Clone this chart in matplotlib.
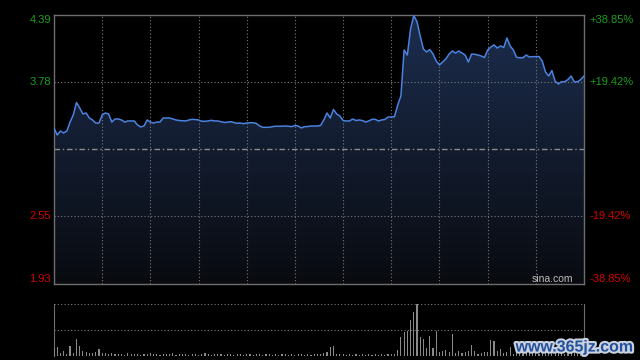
import matplotlib
matplotlib.use("Agg")
import matplotlib.pyplot as plt
import matplotlib.patheffects as pe
from matplotlib.colors import LinearSegmentedColormap
import numpy as np

plt.rcParams['font.family'] = ['Liberation Sans', 'DejaVu Sans']

# intraday data, one sample every 2 minutes (HK session: 330 minutes)
prev_close = 3.16
minutes = np.arange(0, 331, 2)
prices = [
    3.357, 3.293, 3.329, 3.311, 3.329, 3.411, 3.476, 3.590, 3.540, 3.485,
    3.494, 3.448, 3.430, 3.402, 3.402, 3.476, 3.494, 3.485, 3.411, 3.439,
    3.439, 3.430, 3.411, 3.421, 3.421, 3.421, 3.384, 3.366, 3.375, 3.430,
    3.411, 3.402, 3.411, 3.411, 3.448, 3.448, 3.448, 3.439, 3.430, 3.425,
    3.423, 3.421, 3.430, 3.436, 3.434, 3.430, 3.418, 3.418, 3.421, 3.427,
    3.421, 3.421, 3.414, 3.407, 3.411, 3.414, 3.407, 3.400, 3.402, 3.396,
    3.402, 3.405, 3.405, 3.398, 3.375, 3.363, 3.363, 3.363, 3.369, 3.373,
    3.373, 3.373, 3.375, 3.373, 3.369, 3.380, 3.375, 3.357, 3.369, 3.370,
    3.375, 3.375, 3.375, 3.380, 3.430, 3.494, 3.448, 3.526, 3.485, 3.466,
    3.425, 3.421, 3.421, 3.439, 3.425, 3.430, 3.425, 3.411, 3.421, 3.436,
    3.436, 3.421, 3.430, 3.434, 3.457, 3.457, 3.460, 3.567, 3.650, 4.070,
    4.024, 4.262, 4.385, 4.330, 4.198, 4.079, 4.052, 4.074, 4.033, 3.969,
    3.933, 3.960, 3.988, 4.033, 4.061, 4.042, 4.061, 4.042, 4.024, 3.960,
    4.033, 4.031, 4.024, 4.015, 4.001, 4.070, 4.097, 4.116, 4.088, 4.107,
    4.093, 4.180, 4.107, 4.070, 4.003, 3.999, 3.999, 4.024, 4.006, 4.009,
    4.009, 4.010, 3.969, 3.869, 3.832, 3.882, 3.786, 3.759, 3.780, 3.780,
    3.800, 3.832, 3.777, 3.780, 3.800, 3.832,
]
volumes = [
    15, 17, 5, 10, 3, 20, 6, 32, 20, 10, 8, 5, 5, 8, 14, 5, 6, 4, 5, 4,
    3, 4, 2, 5, 3, 4, 3, 2, 4, 3, 5, 3, 4, 2, 3, 4, 3, 5, 2, 3,
    4, 3, 2, 3, 4, 2, 3, 5, 3, 2, 4, 3, 3, 2, 4, 3, 2, 3, 4, 2,
    3, 4, 2, 3, 3, 2, 4, 3, 2, 3, 2, 3, 4, 2, 3, 2, 3, 4, 2, 3,
    2, 3, 3, 4, 5, 8, 18, 20, 3, 4, 3, 2, 3, 2, 3, 2, 3, 2, 3, 2,
    3, 2, 3, 2, 3, 3, 3, 11, 36, 47, 48, 70, 84, 100, 36, 33, 16, 38, 15, 49,
    8, 10, 11, 8, 42, 5, 10, 5, 8, 9, 22, 10, 4, 5, 7, 8, 31, 28, 10, 14,
    6, 8, 17, 4, 17, 20, 6, 8, 5, 10, 7, 4, 9, 12, 6, 8, 5, 11, 7, 4,
    6, 5, 8, 4, 6, 9,
]
price_ticks = [4.39, 3.78, 2.55, 1.93]
pct_labels = ["+38.85%", "+19.42%", "-19.42%", "-38.85%"]
label_colors = ["#1b9e1b", "#1b9e1b", "#d10000", "#d10000"]

GRID = "#7a7a7a"
FRAME = "#6e6e6e"
dots = (0, (1, 2))

fig = plt.figure(figsize=(6.4, 3.6), dpi=100, facecolor="black")
ax = fig.add_axes([54 / 640, 1 - 284 / 360, 530 / 640, 269 / 360], facecolor="black")
axv = fig.add_axes([54 / 640, 1 - 356 / 360, 530 / 640, 52 / 360], facecolor="black")

# price panel
ax.set_xlim(0, 330)
ax.set_ylim(price_ticks[-1], price_ticks[0])

# gradient under the line
cmap = LinearSegmentedColormap.from_list("fill", ["#090b10", "#1c2d4e"])
grad = np.linspace(0, 1, 256).reshape(-1, 1)
img = ax.imshow(grad, extent=[0, 330, price_ticks[-1], price_ticks[0]],
                origin="lower", aspect="auto", cmap=cmap, zorder=1)
poly = ax.fill_between(minutes, prices, price_ticks[-1], color="none", lw=0)
img.set_clip_path(poly.get_paths()[0], transform=ax.transData)

for t in range(30, 330, 30):
    ax.axvline(t, color=GRID, lw=0.8, ls=dots, zorder=2)
for p in price_ticks[1:3]:
    ax.axhline(p, color=GRID, lw=0.8, ls=dots, zorder=2)
ax.axhline(prev_close, color="#8c8c8c", lw=1.0, ls=(0, (4, 2, 1, 2)), zorder=2)

ax.plot(minutes, prices, color="#4a82e0", lw=1.1, zorder=3)

ax.set_xticks([])
ax.set_yticks([])
for s in ax.spines.values():
    s.set_color(FRAME)
    s.set_linewidth(1.0)

for p, pct, c in zip(price_ticks, pct_labels, label_colors):
    va = "center"
    if p == price_ticks[0]:
        va = "top"
    elif p == price_ticks[-1]:
        va = "bottom"
    ax.text(-0.006, p, f"{p:.2f}", color=c, fontsize=8, ha="right", va=va,
            transform=ax.get_yaxis_transform())
    ax.text(1.011, p, pct, color=c, fontsize=8, ha="left", va=va,
            transform=ax.get_yaxis_transform())

ax.text(0.979, 0.02, "sina.com", color="#bdbdbd", fontsize=7.5,
        ha="right", va="center", transform=ax.transAxes)

# volume panel
axv.set_xlim(0, 330)
axv.set_ylim(0, max(volumes))
axv.bar(minutes, volumes, width=0.7, color="#8a8a8a", zorder=3)
axv.axhline(max(volumes) / 2, color=GRID, lw=0.8, ls=dots, zorder=2)
axv.axhline(max(volumes), color=GRID, lw=0.8, ls=dots, zorder=2, clip_on=False)
axv.set_xticks([])
axv.set_yticks([])
axv.spines["top"].set_visible(False)
axv.spines["bottom"].set_visible(False)
for side in ["left", "right"]:
    axv.spines[side].set_color(FRAME)

fig.text(0.898, 0.036, "www.365jz.com", color="#24509c", fontsize=11.5,
         fontweight="bold", ha="center", va="center",
         path_effects=[pe.withStroke(linewidth=3, foreground="#c9d2de")])

fig.savefig("out.png", dpi=100, facecolor="black")
